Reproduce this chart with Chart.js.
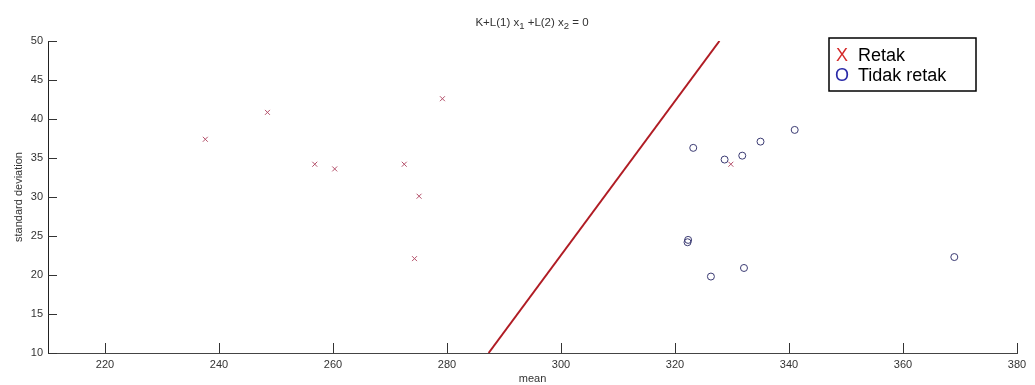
<!DOCTYPE html>
<html>
<head>
<meta charset="utf-8">
<script src="https://cdn.jsdelivr.net/npm/chart.js@4"></script>
<style>
  html, body { margin: 0; padding: 0; background: #fff; }
  #wrap { width: 1035px; height: 385px; }
</style>
</head>
<body>
<div id="wrap"><canvas id="chart"></canvas></div>
<script>
// data
var retakMean = [237.6, 248.5, 256.8, 260.3, 272.5, 275.1, 279.2, 274.3, 329.8];
var retakStd = [37.4, 40.85, 34.2, 33.6, 34.2, 30.1, 42.6, 22.1, 34.2];
var tidakMean = [322.3, 322.2, 326.3, 332.1, 369.0, 323.2, 328.7, 331.8, 335.0, 341.0];
var tidakStd = [24.5, 24.2, 19.8, 20.9, 22.3, 36.3, 34.8, 35.3, 37.1, 38.6];
var boundaryMean = [287.3, 327.8];
var boundaryStd = [10, 50];
var xTicks = [220, 240, 260, 280, 300, 320, 340, 360, 380];
var yTicks = [10, 15, 20, 25, 30, 35, 40, 45, 50];

var FONT = "'Liberation Sans', Arial, sans-serif";

function pts(xs, ys) {
	return xs.map((x, i) => ({ x: x, y: ys[i] }));
}

// matlab style ticks pointing into the plot
var inwardTicks = {
	id: "inwardTicks",
	afterDraw(chart) {
		var ctx = chart.ctx;
		var area = chart.chartArea;
		var xs = chart.scales.x;
		var ys = chart.scales.y;
		ctx.save();
		ctx.strokeStyle = "#333";
		ctx.lineWidth = 1;
		ctx.beginPath();
		xs.ticks.forEach((t) => {
			var px = Math.round(xs.getPixelForValue(t.value)) + 0.5;
			ctx.moveTo(px, area.bottom);
			ctx.lineTo(px, area.bottom - 10);
		});
		ys.ticks.forEach((t) => {
			var py = Math.round(ys.getPixelForValue(t.value)) + 0.5;
			ctx.moveTo(area.left, py);
			ctx.lineTo(area.left + 9, py);
		});
		ctx.stroke();
		ctx.restore();
	},
};

// title with subscripts
var subTitle = {
	id: "subTitle",
	afterDraw(chart) {
		var ctx = chart.ctx;
		var parts = [
			["K+L(1) x", false],
			["1", true],
			[" +L(2) x", false],
			["2", true],
			[" = 0", false],
		];
		ctx.save();
		ctx.fillStyle = "#333";
		ctx.textBaseline = "alphabetic";
		var total = 0;
		parts.forEach((p) => {
			ctx.font = (p[1] ? "9.5px " : "11.5px ") + FONT;
			total += ctx.measureText(p[0]).width;
		});
		var x = 532 - total / 2;
		var base = 26;
		parts.forEach((p) => {
			ctx.font = (p[1] ? "9.5px " : "11.5px ") + FONT;
			ctx.fillText(p[0], x, p[1] ? base + 3 : base);
			x += ctx.measureText(p[0]).width;
		});
		ctx.restore();
	},
};

// boxed legend in the top right corner
var boxLegend = {
	id: "boxLegend",
	afterDraw(chart) {
		var ctx = chart.ctx;
		var sets = chart.data.datasets.filter((d) => d.legendMark);
		var left = 829, top = 38, w = 147, h = 53;
		ctx.save();
		ctx.fillStyle = "#fff";
		ctx.fillRect(left, top, w, h);
		ctx.strokeStyle = "#000";
		ctx.lineWidth = 1.5;
		ctx.strokeRect(left, top, w, h);
		ctx.textBaseline = "middle";
		sets.forEach((d, i) => {
			var y = top + 18 + i * 20;
			ctx.font = "18px " + FONT;
			ctx.fillStyle = d.legendColor;
			ctx.textAlign = "center";
			ctx.fillText(d.legendMark, left + 13, y);
			ctx.fillStyle = "#000";
			ctx.textAlign = "left";
			ctx.fillText(d.label, left + 29, y);
		});
		ctx.restore();
	},
};

new Chart(document.getElementById("chart"), {
	type: "scatter",
	data: {
		datasets: [
			{
				label: "Retak",
				legendMark: "X",
				legendColor: "#d42a2a",
				data: pts(retakMean, retakStd),
				pointStyle: "crossRot",
				pointRadius: 3.5,
				pointBorderColor: "#b4506a",
				pointBorderWidth: 1,
				showLine: false,
			},
			{
				label: "Tidak retak",
				legendMark: "O",
				legendColor: "#2a2aa8",
				data: pts(tidakMean, tidakStd),
				pointStyle: "circle",
				pointRadius: 3.5,
				pointBackgroundColor: "rgba(0,0,0,0)",
				pointBorderColor: "#3a3a72",
				pointBorderWidth: 1,
				showLine: false,
			},
			{
				label: "boundary",
				data: pts(boundaryMean, boundaryStd),
				showLine: true,
				borderColor: "#b01c24",
				borderWidth: 2,
				pointRadius: 0,
			},
		],
	},
	options: {
		responsive: true,
		maintainAspectRatio: false,
		animation: false,
		layout: { padding: { top: 41, right: 18, left: 0, bottom: 0 } },
		plugins: {
			legend: { display: false },
			title: { display: false },
			tooltip: { enabled: false },
		},
		scales: {
			x: {
				type: "linear",
				min: 210,
				max: 380,
				afterBuildTicks: (s) => { s.ticks = xTicks.map((v) => ({ value: v })); },
				afterFit: (s) => { s.height = 32; },
				grid: { display: false, drawTicks: false },
				border: { display: true, color: "#444", width: 1 },
				ticks: { color: "#333", font: { family: FONT, size: 11 }, padding: 5, maxRotation: 0 },
				title: { display: true, text: "mean", color: "#333", font: { family: FONT, size: 11 }, padding: { bottom: -1 } },
			},
			y: {
				type: "linear",
				min: 10,
				max: 50,
				afterBuildTicks: (s) => { s.ticks = yTicks.map((v) => ({ value: v })); },
				afterFit: (s) => { s.width = 48; },
				grid: { display: false, drawTicks: false },
				border: { display: true, color: "#222", width: 1 },
				ticks: { color: "#333", font: { family: FONT, size: 11 }, padding: 5 },
				title: { display: true, text: "standard deviation", color: "#333", font: { family: FONT, size: 11 }, padding: { top: 12 } },
			},
		},
	},
	plugins: [inwardTicks, subTitle, boxLegend],
});
</script>
</body>
</html>
